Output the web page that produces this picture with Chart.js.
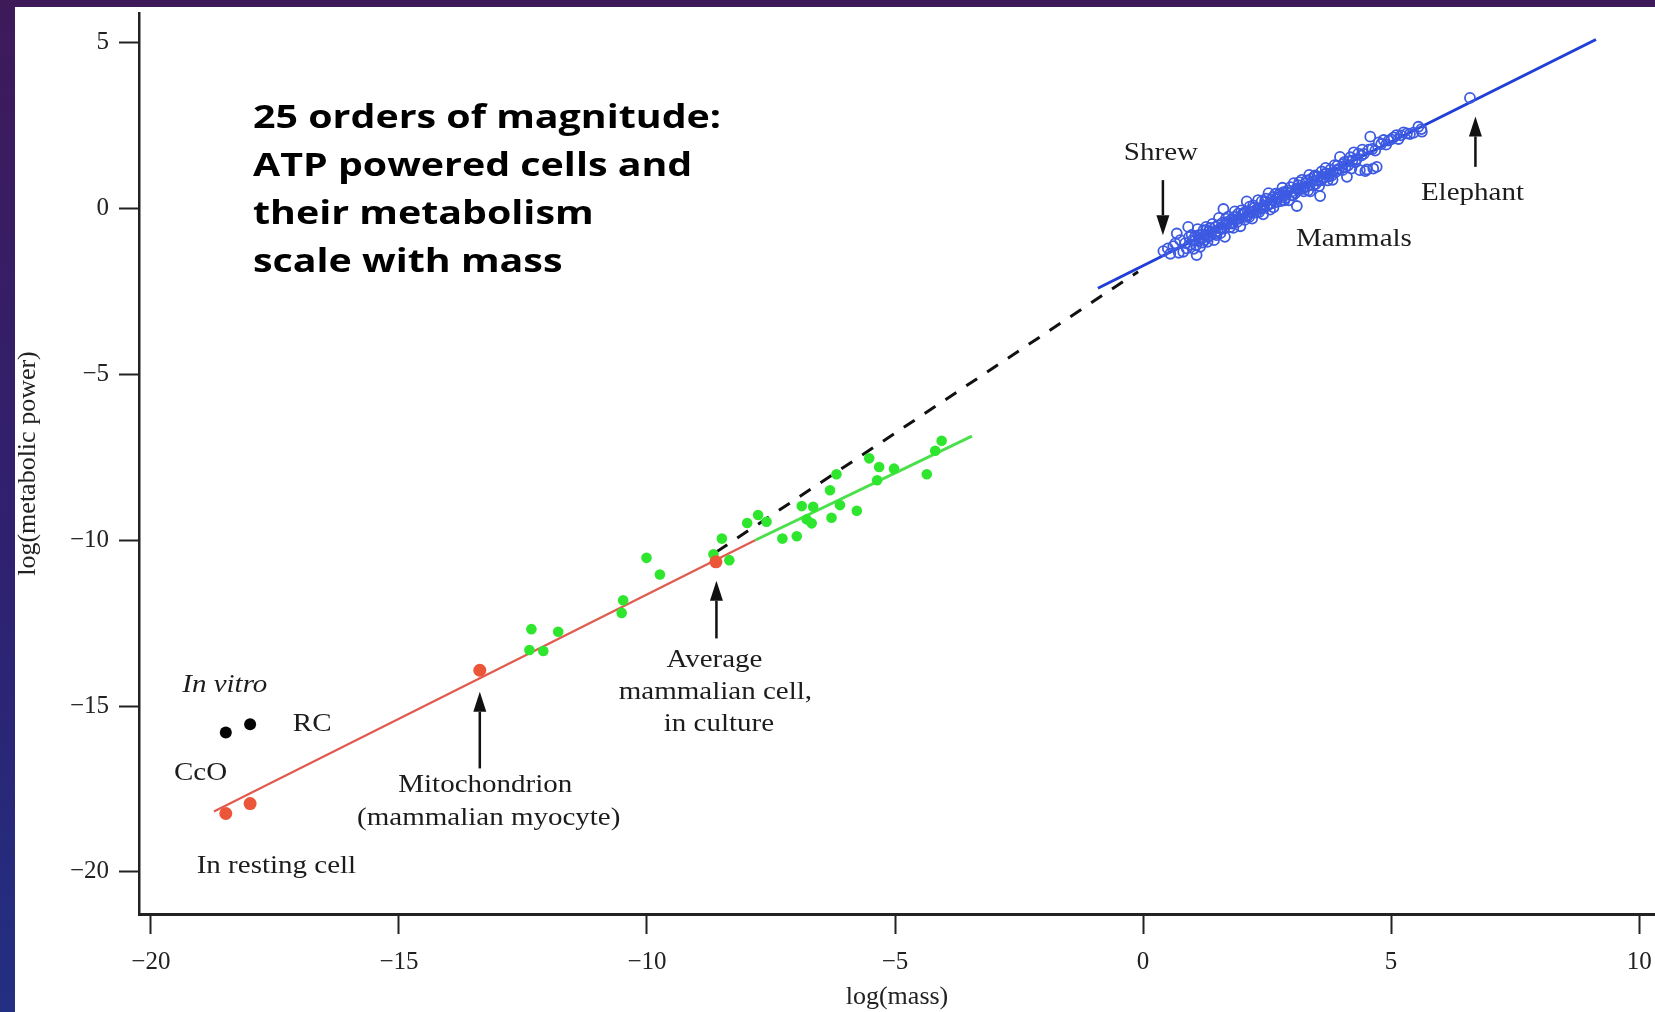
<!DOCTYPE html>
<html>
<head>
<meta charset="utf-8">
<script src="https://cdn.jsdelivr.net/npm/chart.js@4.4.1/dist/chart.umd.min.js"></script>
<style>
  html, body { margin: 0; padding: 0; width: 1655px; height: 1012px; overflow: hidden; }
  body { background: linear-gradient(180deg, #3e1a5a 0%, #2f2170 55%, #232f82 100%); }
  #wrap { position: absolute; left: 15px; top: 7px; width: 1640px; height: 1005px; background: #fff; }
</style>
</head>
<body>
<div id="wrap"><canvas id="scalingChart"></canvas></div>
<script>
const xTicks = [-20, -15, -10, -5, 0, 5, 10];
const yTicks = [-20, -15, -10, -5, 0, 5];

// isolated enzymes (CcO, RC)
const inVitroMass = [-18.49, -18.0];
const inVitroPower = [-15.8, -15.55];

// enzymes in resting cell, mitochondrion, average cell
const cellMass = [-18.49, -18.0, -13.37, -8.61];
const cellPower = [-18.24, -17.94, -13.92, -10.65];

// cultured cells
const cultureMass = [-12.33, -12.37, -12.09, -11.79, -10.48, -10.51, -10.01, -9.74, -8.66, -8.49, -8.34,
  -7.98, -7.76, -7.59, -7.27, -6.98, -6.88, -6.65, -6.78, -6.68, -6.31, -6.28, -6.18, -6.11, -5.77,
  -5.52, -5.32, -5.36, -5.02, -4.36, -4.19, -4.06];
const culturePower = [-12.68, -13.31, -13.34, -12.76, -11.81, -12.19, -10.53, -11.03, -10.42, -9.95, -10.6,
  -9.48, -9.24, -9.44, -9.95, -9.88, -8.97, -8.99, -9.37, -9.49, -8.49, -9.32, -8.01, -8.94, -9.11,
  -7.53, -7.79, -8.19, -7.84, -8.01, -7.3, -7.0];

// mammals, shrew to elephant
const mammalMass = [0.41, 0.55, 0.61, 0.68, 0.72, 0.81, 0.85, 0.91, 0.95, 0.98, 1.02, 1.04, 1.05, 1.08,
  1.10, 1.13, 1.16, 1.18, 1.20, 1.22, 1.25, 1.28, 1.30, 1.33, 1.35, 1.36, 1.40, 1.43, 1.46, 1.48, 1.50,
  1.53, 1.56, 1.58, 1.60, 1.62, 1.65, 1.68, 1.70, 1.72, 1.75, 1.78, 1.82, 1.85, 1.88, 1.90, 1.92, 1.96,
  2.00, 2.02, 2.05, 2.08, 2.09, 2.12, 2.15, 2.18, 2.20, 2.24, 2.28, 2.30, 2.32, 2.36, 2.39, 2.42, 2.44,
  2.46, 2.50, 2.53, 2.56, 2.58, 2.60, 2.63, 2.67, 2.70, 2.72, 2.74, 2.78, 2.81, 2.83, 2.86, 2.87, 2.90,
  2.94, 2.97, 2.99, 3.00, 3.04, 3.07, 3.10, 3.12, 3.13, 3.17, 3.20, 3.24, 3.26, 3.28, 3.31, 3.35, 3.37,
  3.39, 3.41, 3.45, 3.48, 3.50, 3.52, 3.55, 3.57, 3.60, 3.62, 3.64, 3.68, 3.70, 3.74, 3.76, 3.78, 3.82,
  3.86, 3.90, 3.92, 3.97, 4.02, 4.06, 4.08, 4.11, 4.15, 4.20, 4.22, 4.25, 4.30, 4.34, 4.37, 4.40, 4.42,
  4.48, 4.51, 4.55, 4.58, 4.64, 4.71, 4.75, 4.85, 4.90, 5.00, 5.11, 5.20, 5.32, 5.45, 5.55, 5.61, 5.62,
  6.59,
  0.50, 0.65, 0.75, 0.88, 0.93, 1.00, 1.07, 1.12, 1.15, 1.24, 1.27, 1.32, 1.38, 1.45, 1.52, 1.55, 1.63,
  1.67, 1.74, 1.80, 1.84, 1.94, 1.98, 2.06, 2.14, 2.22, 2.26, 2.34, 2.40, 2.48, 2.55, 2.62, 2.68, 2.76,
  2.85, 2.92, 3.02, 3.09, 3.15, 3.22, 3.30, 3.33, 3.43, 3.47, 3.58, 3.66, 3.72, 3.80, 3.88, 3.95, 4.04,
  4.13, 4.18, 4.28, 4.45, 4.62, 4.68, 4.80, 4.95, 5.05, 5.15, 5.25, 5.38];
const mammalPower = [-1.28, -1.36, -1.13, -0.75, -1.33, -1.30, -1.04, -0.55, -1.09, -0.79, -1.21, -0.98, -0.84, -1.40,
  -0.62, -0.96, -0.79, -0.90, -1.02, -0.65, -0.79, -0.65, -1.00, -0.69, -0.58, -0.80, -0.46, -0.95, -0.55, -0.80, -0.68,
  -0.28, -0.74, -0.60, -0.43, -0.01, -0.85, -0.47, -0.40, -0.24, -0.56, -0.33, -0.58, -0.08, -0.32, -0.40, -0.15, -0.53,
  -0.18, -0.14, -0.34, -0.25, 0.22, -0.19, 0.06, -0.10, -0.30, 0.03, -0.12, -0.02, 0.26, 0.02, 0.22, -0.17, 0.10,
  0.23, 0.08, 0.47, -0.03, 0.15, 0.27, 0.04, 0.45, 0.29, 0.35, 0.42, 0.23, 0.63, 0.50, 0.40, 0.32, 0.48,
  0.25, 0.65, 0.40, 0.52, 0.77, 0.47, 0.08, 0.60, 0.71, 0.59, 0.87, 0.52, 0.65, 0.77, 0.67, 1.02, 0.52,
  0.90, 0.82, 0.97, 0.74, 0.85, 0.97, 0.68, 0.38, 1.12, 0.90, 0.95, 1.23, 1.06, 0.97, 1.05, 1.18, 0.87,
  1.31, 1.16, 1.30, 1.56, 1.16, 1.41, 1.25, 0.96, 1.43, 1.21, 1.45, 1.70, 1.49, 1.66, 1.16, 1.60, 1.78,
  1.13, 1.18, 1.78, 2.17, 1.21, 1.26, 2.00, 2.07, 1.93, 2.09, 2.22, 2.21, 2.27, 2.29, 2.47, 2.40, 2.32,
  3.34,
  -1.20, -1.05, -0.95, -1.20, -0.85, -0.95, -1.10, -0.80, -1.15, -0.95, -0.55, -0.85, -0.70, -0.75, -0.50, -0.60, -0.60,
  -0.30, -0.45, -0.45, -0.25, -0.30, -0.05, -0.10, -0.25, 0.10, -0.05, -0.10, 0.00, 0.30, 0.15, 0.35, 0.20, 0.45,
  0.25, 0.55, 0.40, 0.60, 0.80, 0.60, 0.85, 0.55, 0.70, 1.00, 0.85, 1.05, 0.85, 1.00, 1.10, 1.20, 1.35,
  1.30, 1.55, 1.40, 1.65, 1.80, 1.75, 1.95, 2.05, 2.15, 2.10, 2.30, 2.25];

// fitted lines (end points)
const redFitMass = [-18.73, -7.82];
const redFitPower = [-18.18, -10.0];
const greenFitMass = [-7.82, -3.45];
const greenFitPower = [-10.0, -6.86];
const extrapMass = [-8.6, -0.1];
const extrapPower = [-10.35, -1.9];
const blueFitMass = [-0.91, 9.13];
const blueFitPower = [-2.4, 5.1];

const headline = ['25 orders of magnitude:', 'ATP powered cells and', 'their metabolism', 'scale with mass'];

const notes = [
  { text: 'Shrew', x: 0.36, y: 1.67 },
  { text: 'Elephant', x: 6.64, y: 0.47 },
  { text: 'Mammals', x: 4.25, y: -0.94 },
  { text: 'In vitro', x: -18.51, y: -14.37, italic: true },
  { text: 'RC', x: -16.75, y: -15.55 },
  { text: 'CcO', x: -19.0, y: -17.04 },
  { text: 'In resting cell', x: -17.47, y: -19.85 },
  { text: 'Mitochondrion', x: -13.26, y: -17.39 },
  { text: '(mammalian myocyte)', x: -13.19, y: -18.38 },
  { text: 'Average', x: -8.64, y: -13.61 },
  { text: 'mammalian cell,', x: -8.62, y: -14.59 },
  { text: 'in culture', x: -8.55, y: -15.55 }
];

// vertical arrows: tail -> head
const arrows = [
  { x: 0.40, from: 0.86, to: -0.80 },
  { x: 6.70, from: 1.26, to: 2.78 },
  { x: -13.37, from: -16.88, to: -14.57 },
  { x: -8.60, from: -12.96, to: -11.22 }
];

const pts = (xs, ys) => xs.map((x, i) => ({ x: x, y: ys[i] }));
const SERIF = "'Liberation Serif', 'Times New Roman', serif";

// text with a little horizontal stretch, like the original figure's type
function wideText(ctx, text, px, py, sx) {
  ctx.save();
  ctx.translate(px, py);
  ctx.scale(sx, 1);
  ctx.fillText(text, 0, 0);
  ctx.restore();
}

const annotations = {
  id: 'annotations',
  afterDatasetsDraw(chart) {
    const { ctx, chartArea, scales: { x, y } } = chart;
    ctx.save();
    ctx.fillStyle = '#1c1c1c';
    ctx.textAlign = 'center';
    ctx.textBaseline = 'middle';
    notes.forEach(n => {
      ctx.font = (n.italic ? 'italic ' : '') + '25px ' + SERIF;
      wideText(ctx, n.text, x.getPixelForValue(n.x), y.getPixelForValue(n.y), 1.16);
    });

    ctx.strokeStyle = '#111';
    ctx.fillStyle = '#111';
    ctx.lineWidth = 2.5;
    arrows.forEach(a => {
      const px = x.getPixelForValue(a.x);
      const y0 = y.getPixelForValue(a.from);
      const y1 = y.getPixelForValue(a.to);
      const dir = y1 > y0 ? 1 : -1;
      const head = 20;
      ctx.beginPath();
      ctx.moveTo(px, y0);
      ctx.lineTo(px, y1 - dir * head);
      ctx.stroke();
      ctx.beginPath();
      ctx.moveTo(px, y1);
      ctx.lineTo(px - 6.5, y1 - dir * head);
      ctx.lineTo(px + 6.5, y1 - dir * head);
      ctx.closePath();
      ctx.fill();
    });

    ctx.textAlign = 'left';
    ctx.fillStyle = '#000';
    ctx.font = "bold 32px 'Open Sans', sans-serif";
    headline.forEach((line, i) => {
      wideText(ctx, line, chartArea.left + 114, chartArea.top + 106 + i * 48, 1.23);
    });
    ctx.restore();
  }
};

const lineSet = (label, xs, ys, color, width, dash) => ({
  label: label,
  data: pts(xs, ys),
  showLine: true,
  borderColor: color,
  borderWidth: width,
  borderDash: dash || [],
  pointRadius: 0,
  fill: false,
  order: 2
});

new Chart(document.getElementById('scalingChart'), {
  type: 'scatter',
  data: {
    datasets: [
      lineSet('extrapolation', extrapMass, extrapPower, '#111', 3, [13, 12]),
      lineSet('cell fit', redFitMass, redFitPower, '#e05a4e', 2.2),
      lineSet('culture fit', greenFitMass, greenFitPower, '#4be04b', 3),
      lineSet('mammal fit', blueFitMass, blueFitPower, '#1f3fd6', 3),
      {
        label: 'Mammals',
        data: pts(mammalMass, mammalPower),
        pointStyle: 'circle',
        pointRadius: 5,
        backgroundColor: 'rgba(255,255,255,0)',
        borderColor: '#3d5ae2',
        borderWidth: 1.8,
        order: 1
      },
      {
        label: 'In culture',
        data: pts(cultureMass, culturePower),
        pointRadius: 5.3,
        backgroundColor: '#2fe62f',
        borderWidth: 0,
        order: 1
      },
      {
        label: 'In vivo',
        data: pts(cellMass, cellPower),
        pointRadius: 6.5,
        backgroundColor: '#ec5638',
        borderWidth: 0,
        order: 0
      },
      {
        label: 'In vitro',
        data: pts(inVitroMass, inVitroPower),
        pointRadius: 6,
        backgroundColor: '#050505',
        borderWidth: 0,
        order: 0
      }
    ]
  },
  options: {
    responsive: true,
    maintainAspectRatio: false,
    animation: false,
    layout: { autoPadding: false, padding: { top: 6, right: 0, bottom: 0, left: 0 } },
    plugins: {
      legend: { display: false },
      tooltip: { enabled: false }
    },
    scales: {
      x: {
        type: 'linear',
        min: -20.24,
        max: 10.32,
        afterBuildTicks: scale => { scale.ticks = xTicks.map(v => ({ value: v })); },
        afterFit: scale => { scale.height = 98; scale.paddingLeft = 0; scale.paddingRight = 0; },
        ticks: {
          padding: 13,
          color: '#222',
          font: { family: SERIF, size: 25 },
          callback: v => String(v).replace('-', '\u2212')
        },
        grid: { drawOnChartArea: false, drawTicks: true, tickLength: 20, tickColor: '#222', tickWidth: 2 },
        border: { display: true, color: '#222', width: 3 },
        title: {
          display: true,
          text: 'log(mass)',
          color: '#222',
          font: { family: SERIF, size: 26, lineHeight: 1 },
          padding: { top: 0, bottom: 1.5 }
        }
      },
      y: {
        type: 'linear',
        min: -21.27,
        max: 5.9,
        afterBuildTicks: scale => { scale.ticks = yTicks.map(v => ({ value: v })); },
        afterFit: scale => { scale.width = 124; scale.paddingTop = 0; scale.paddingBottom = 0; },
        ticks: {
          padding: 10,
          color: '#222',
          font: { family: SERIF, size: 25 },
          callback: v => String(v).replace('-', '\u2212')
        },
        grid: { drawOnChartArea: false, drawTicks: true, tickLength: 20, tickColor: '#222', tickWidth: 2 },
        border: { display: true, color: '#222', width: 2.5 },
        title: {
          display: true,
          text: 'log(metabolic power)',
          color: '#222',
          font: { family: SERIF, size: 26, lineHeight: 1 },
          padding: { top: 0, bottom: 0 }
        }
      }
    }
  },
  plugins: [annotations]
});
</script>
</body>
</html>
